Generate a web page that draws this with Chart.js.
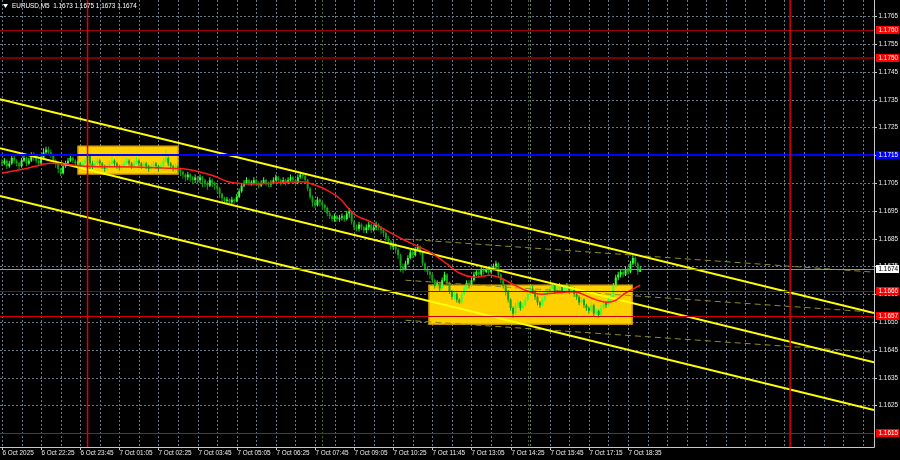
<!DOCTYPE html>
<html><head><meta charset="utf-8">
<script src="https://cdn.jsdelivr.net/npm/chart.js@4.4.1/dist/chart.umd.min.js"></script>
<style>html,body{margin:0;padding:0;background:#000;}canvas{display:block;}</style>
</head><body>
<canvas id="c" width="900" height="460"></canvas>
<script>
const symbol = 'EURUSD,M5';
const opens = [
1.17125,1.1712,1.1713,1.1711,1.1712,1.1714,1.1713,1.1712,1.1711,1.1713,
1.1714,1.1712,1.1713,1.1715,1.1714,1.1713,1.1712,1.1714,1.1716,1.1717,
1.1716,1.1715,1.1713,1.1712,1.1710,1.17085,1.1711,1.1712,1.1713,1.1714,
1.1713,1.1712,1.1712,1.1711,1.1712,1.1713,1.1715,1.1712,1.1711,1.1712,
1.1713,1.1712,1.1711,1.1710,1.1711,1.1712,1.1713,1.1712,1.1711,1.17105,
1.1711,1.1712,1.1713,1.1712,1.1711,1.1712,1.1713,1.1712,1.1711,1.1712,
1.1711,1.1710,1.1711,1.1712,1.1711,1.1710,1.1711,1.1713,1.1714,1.1712,
1.1711,1.1710,1.1711,1.1710,1.1709,1.1708,1.1707,1.1708,1.1707,1.1706,
1.1707,1.1706,1.1707,1.1706,1.1705,1.1704,1.1706,1.1705,1.1704,1.1703,
1.1701,1.16995,1.16985,1.1699,1.1698,1.1699,1.16985,1.1700,1.1702,1.1704,
1.1705,1.1706,1.1705,1.1705,1.1706,1.1705,1.1704,1.1705,1.1706,1.1705,
1.17045,1.1705,1.1706,1.1707,1.1706,1.1705,1.1706,1.1705,1.1706,1.1707,
1.1706,1.1705,1.1707,1.1708,1.17075,1.1706,1.1703,1.1700,1.1698,1.1697,
1.1699,1.1698,1.1697,1.1696,1.1694,1.1693,1.1692,1.1693,1.1692,1.16925,
1.1693,1.1692,1.1694,1.16945,1.1691,1.1689,1.16885,1.1690,1.1689,1.1688,
1.1689,1.1690,1.1688,1.1689,1.1690,1.1689,1.1688,1.1687,1.1685,1.1684,
1.1682,1.1683,1.1681,1.1679,1.1675,1.1674,1.1676,1.1678,1.1680,1.1679,
1.1681,1.1682,1.1680,1.1676,1.1674,1.1673,1.1672,1.1670,1.1668,1.1669,
1.1667,1.1670,1.1672,1.1669,1.1666,1.1664,1.1665,1.1663,1.1662,1.1665,
1.1667,1.1669,1.1668,1.1670,1.1672,1.1673,1.1672,1.1674,1.1673,1.1674,
1.1673,1.1674,1.1675,1.1676,1.1672,1.1670,1.1668,1.1666,1.1663,1.1660,
1.1658,1.1661,1.1662,1.1660,1.1661,1.1663,1.1665,1.1667,1.1666,1.1664,
1.1662,1.1661,1.1663,1.1665,1.1666,1.1667,1.1668,1.1666,1.1667,1.1668,
1.1666,1.1667,1.1668,1.1666,1.1667,1.1665,1.1664,1.1662,1.1663,1.1661,
1.1660,1.1659,1.1661,1.1658,1.1659,1.16575,1.1660,1.1662,1.1661,1.1663,
1.1664,1.1668,1.1671,1.1672,1.1673,1.1672,1.1674,1.1673,1.1676,1.1678,
1.1676,1.1673];
const highs = [
1.17135,1.1714,1.17135,1.1713,1.1715,1.1715,1.17135,1.17125,1.1714,1.1715,
1.17145,1.1714,1.1716,1.1716,1.17145,1.17135,1.1715,1.17175,1.1718,1.1718,
1.1717,1.17155,1.17135,1.17125,1.17105,1.17115,1.1713,1.1714,1.1715,1.17145,
1.17135,1.1713,1.17125,1.1713,1.1714,1.17175,1.17155,1.1713,1.1713,1.1714,
1.17135,1.17125,1.17115,1.1712,1.1713,1.17145,1.17135,1.17125,1.17115,1.1712,
1.1713,1.1714,1.17135,1.17125,1.1713,1.17145,1.17135,1.17125,1.1713,1.17125,
1.17115,1.1712,1.1713,1.17125,1.17115,1.1712,1.1714,1.1717,1.17145,1.17125,
1.17115,1.1712,1.17115,1.17105,1.17095,1.17085,1.1709,1.17085,1.17075,1.1708,
1.17075,1.1708,1.17075,1.17065,1.17055,1.1707,1.17065,1.17055,1.17045,1.17035,
1.17015,1.1700,1.1700,1.16995,1.1700,1.16995,1.1701,1.1703,1.1705,1.1706,
1.1707,1.17065,1.1706,1.1707,1.17065,1.17055,1.1706,1.1707,1.17065,1.17055,
1.1706,1.1707,1.1708,1.17075,1.17065,1.1707,1.17065,1.1707,1.1708,1.17075,
1.17065,1.1708,1.1709,1.17085,1.1708,1.17065,1.17035,1.17005,1.1699,1.1700,
1.16995,1.16985,1.16975,1.16965,1.1695,1.16935,1.1694,1.16935,1.16935,1.1694,
1.16935,1.1695,1.1696,1.1695,1.16915,1.1690,1.1691,1.16905,1.16895,1.1690,
1.1691,1.16905,1.1690,1.1691,1.16905,1.16895,1.16885,1.16875,1.1686,1.16845,
1.1684,1.16835,1.16815,1.16795,1.1676,1.1677,1.1679,1.1681,1.1681,1.1682,
1.1683,1.16825,1.16805,1.16765,1.1675,1.16735,1.16725,1.16705,1.1670,1.16695,
1.1671,1.1673,1.16725,1.16695,1.16665,1.1666,1.16655,1.16635,1.1666,1.1668,
1.1670,1.1670,1.1671,1.1673,1.1674,1.1674,1.1675,1.1675,1.1675,1.16745,
1.1675,1.1676,1.1677,1.16765,1.16725,1.16705,1.16685,1.16665,1.16635,1.16605,
1.1662,1.1663,1.16625,1.1662,1.1664,1.1666,1.1668,1.1668,1.16665,1.16645,
1.16625,1.1664,1.1666,1.1667,1.1668,1.1669,1.16685,1.1668,1.1669,1.16685,
1.1668,1.1669,1.16685,1.1668,1.16675,1.16655,1.16645,1.1664,1.16635,1.16615,
1.16605,1.1662,1.16615,1.1660,1.16595,1.1661,1.1663,1.16625,1.1664,1.1665,
1.1669,1.1672,1.1673,1.1674,1.1674,1.1675,1.1675,1.1677,1.1679,1.16785,
1.16765,1.1675];
const lows = [
1.1711,1.17115,1.1710,1.17105,1.17115,1.1712,1.1711,1.1710,1.17105,1.17125,
1.1711,1.17115,1.17125,1.1713,1.1712,1.1711,1.17115,1.17135,1.1715,1.1715,
1.1714,1.1712,1.17105,1.17085,1.17075,1.1708,1.17105,1.17115,1.17125,1.1712,
1.1711,1.1711,1.1710,1.17105,1.17115,1.1708,1.1710,1.1710,1.17105,1.17115,
1.1711,1.1710,1.1709,1.17095,1.17105,1.17115,1.1711,1.1710,1.17095,1.17095,
1.17105,1.17115,1.1711,1.1710,1.17105,1.17115,1.1711,1.1710,1.17105,1.1710,
1.1709,1.17095,1.17105,1.1710,1.1709,1.17095,1.17105,1.17125,1.1711,1.1710,
1.1709,1.1709,1.17085,1.17075,1.17065,1.17055,1.1706,1.17055,1.17045,1.1705,
1.17045,1.1705,1.17035,1.17035,1.17025,1.17035,1.17035,1.17025,1.17015,1.16995,
1.1698,1.16975,1.16975,1.1697,1.1697,1.16975,1.1698,1.16995,1.17015,1.17035,
1.17045,1.1704,1.1704,1.17045,1.1704,1.1703,1.17035,1.17045,1.1704,1.17035,
1.17035,1.17045,1.17055,1.1705,1.1704,1.17045,1.1704,1.17045,1.17055,1.1705,
1.1704,1.17045,1.17065,1.17065,1.1705,1.1702,1.1699,1.16965,1.1696,1.16965,
1.16965,1.16955,1.16945,1.1693,1.1692,1.1691,1.1691,1.1691,1.1691,1.16915,
1.1691,1.16915,1.16925,1.1690,1.1688,1.16875,1.16875,1.1688,1.1687,1.1687,
1.1688,1.1687,1.16875,1.1688,1.1688,1.16865,1.16855,1.1684,1.1683,1.1681,
1.1681,1.16795,1.16775,1.1673,1.16725,1.16735,1.16755,1.16775,1.1678,1.16785,
1.16805,1.1679,1.1675,1.1673,1.1672,1.16705,1.1669,1.1667,1.1667,1.1666,
1.16665,1.16695,1.1668,1.1665,1.1663,1.1663,1.1662,1.16615,1.16615,1.16645,
1.16665,1.1667,1.16675,1.16695,1.16715,1.1671,1.16715,1.1672,1.16725,1.1672,
1.16725,1.16735,1.1674,1.1671,1.1669,1.1667,1.16645,1.1662,1.1659,1.16565,
1.16575,1.1660,1.1659,1.16595,1.16605,1.16625,1.16645,1.1665,1.1663,1.1661,
1.1660,1.16605,1.16625,1.16645,1.16655,1.16665,1.1665,1.16655,1.16665,1.1665,
1.16655,1.16665,1.1665,1.16655,1.1664,1.1663,1.1661,1.16615,1.1660,1.1659,
1.1658,1.16585,1.1657,1.16575,1.16565,1.1657,1.16595,1.1660,1.16605,1.16625,
1.16635,1.16675,1.1670,1.1671,1.1671,1.16715,1.1672,1.16725,1.16755,1.1675,
1.1672,1.1673];
const closes = [
1.1712,1.1713,1.1711,1.1712,1.1714,1.1713,1.1712,1.1711,1.1713,1.1714,
1.1712,1.1713,1.1715,1.1714,1.1713,1.1712,1.1714,1.1716,1.1717,1.1716,
1.1715,1.1713,1.1712,1.1710,1.17085,1.1711,1.1712,1.1713,1.1714,1.1713,
1.1712,1.1712,1.1711,1.1712,1.1713,1.1715,1.1712,1.1711,1.1712,1.1713,
1.1712,1.1711,1.1710,1.1711,1.1712,1.1713,1.1712,1.1711,1.17105,1.1711,
1.1712,1.1713,1.1712,1.1711,1.1712,1.1713,1.1712,1.1711,1.1712,1.1711,
1.1710,1.1711,1.1712,1.1711,1.1710,1.1711,1.1713,1.1714,1.1712,1.1711,
1.1710,1.1711,1.1710,1.1709,1.1708,1.1707,1.1708,1.1707,1.1706,1.1707,
1.1706,1.1707,1.1706,1.1705,1.1704,1.1706,1.1705,1.1704,1.1703,1.1701,
1.16995,1.16985,1.1699,1.1698,1.1699,1.16985,1.1700,1.1702,1.1704,1.1705,
1.1706,1.1705,1.1705,1.1706,1.1705,1.1704,1.1705,1.1706,1.1705,1.17045,
1.1705,1.1706,1.1707,1.1706,1.1705,1.1706,1.1705,1.1706,1.1707,1.1706,
1.1705,1.1707,1.1708,1.17075,1.1706,1.1703,1.1700,1.1698,1.1697,1.1699,
1.1698,1.1697,1.1696,1.1694,1.1693,1.1692,1.1693,1.1692,1.16925,1.1693,
1.1692,1.1694,1.16945,1.1691,1.1689,1.16885,1.1690,1.1689,1.1688,1.1689,
1.1690,1.1688,1.1689,1.1690,1.1689,1.1688,1.1687,1.1685,1.1684,1.1682,
1.1683,1.1681,1.1679,1.1675,1.1674,1.1676,1.1678,1.1680,1.1679,1.1681,
1.1682,1.1680,1.1676,1.1674,1.1673,1.1672,1.1670,1.1668,1.1669,1.1667,
1.1670,1.1672,1.1669,1.1666,1.1664,1.1665,1.1663,1.1662,1.1665,1.1667,
1.1669,1.1668,1.1670,1.1672,1.1673,1.1672,1.1674,1.1673,1.1674,1.1673,
1.1674,1.1675,1.1676,1.1672,1.1670,1.1668,1.1666,1.1663,1.1660,1.1658,
1.1661,1.1662,1.1660,1.1661,1.1663,1.1665,1.1667,1.1666,1.1664,1.1662,
1.1661,1.1663,1.1665,1.1666,1.1667,1.1668,1.1666,1.1667,1.1668,1.1666,
1.1667,1.1668,1.1666,1.1667,1.1665,1.1664,1.1662,1.1663,1.1661,1.1660,
1.1659,1.1661,1.1658,1.1659,1.16575,1.1660,1.1662,1.1661,1.1663,1.1664,
1.1668,1.1671,1.1672,1.1673,1.1672,1.1674,1.1673,1.1676,1.1678,1.1676,
1.1673,1.1674];
// moving average (bar index, price)
const maIndex = [0,10,20,34,54,66,72,75,81,87,93,101,110,118,124,128,132,138,144,151,157,163,169,175,181,187,193,200,204,208,214,220,226,235,241,247,251,255,261];
const maValues = [1.17085,1.17102,1.17121,1.17110,1.17107,1.17104,1.17102,1.17100,1.17089,1.17074,1.17053,1.17046,1.17049,1.17053,1.17053,1.17042,1.17028,1.16995,1.16938,1.16909,1.16880,1.16851,1.16826,1.16801,1.16765,1.16726,1.16711,1.16718,1.16708,1.16690,1.16664,1.16650,1.16654,1.16657,1.16636,1.16621,1.16628,1.16654,1.16682];
const timeTickIndex = [0,16,32,48,64,80,96,112,128,144,160,176,192,208,224,240,256];
const timeTickLabels = ['6 Oct 2025','6 Oct 22:25','6 Oct 23:45','7 Oct 01:05','7 Oct 02:25','7 Oct 03:45','7 Oct 05:05','7 Oct 06:25','7 Oct 07:45','7 Oct 09:05','7 Oct 10:25','7 Oct 11:45','7 Oct 13:05','7 Oct 14:25','7 Oct 15:45','7 Oct 17:15','7 Oct 18:35'];
const priceTicks = [1.1765,1.1755,1.1745,1.1735,1.1725,1.1715,1.1705,1.1695,1.1685,1.1675,1.1665,1.1655,1.1645,1.1635,1.1625];
const levelPrices = [1.1760,1.1750,1.1715,1.1666,1.1657,1.1615];
const currentPrice = 1.1674;
const dayBreakIndex = [35,322.3];
const sessionIndex = [131,215];
const zoneStartIndex = [31.1,174.6];
const zoneEndIndex = [72,257.7];
const zoneTop = [1.17182,1.16682];
const zoneBottom = [1.17082,1.16542];
const channelFromIndex = -0.8, channelToIndex = 356.6;
const channelFrom = [1.17351,1.17175,1.17003];
const channelTo = [1.16582,1.16405,1.16233];
const dashFromIndex = 165, dashToIndex = 356.6;
const dashFrom = [1.16848,1.16700,1.16556];
const dashTo = [1.16729,1.16585,1.16441];

// ---- styles ----
const FONT = '6.4px "Liberation Sans", Arial, sans-serif';
const bullColor = '#3cff3c', bearColor = '#18a018';
const levelStyles = [
  {line:'#a00000', w:1, bg:'#ff0000', fg:'#ffffff'},
  {line:'#7a0000', w:2, bg:'#ff0000', fg:'#ffffff'},
  {line:'#0000ff', w:2, bg:'#0000ff', fg:'#ffffff'},
  {line:'#a00000', w:1, bg:'#ff0000', fg:'#ffffff'},
  {line:'#d00000', w:1, bg:'#ff0000', fg:'#ffffff'},
  {line:'#d00000', w:1, bg:'#ff0000', fg:'#ffffff'}
];

const idx = closes.map((_, i) => i);
const candleColor = c => closes[c.dataIndex] >= opens[c.dataIndex] ? bullColor : bearColor;
const fmt = v => v.toFixed(4);

const datasets = [];
channelFrom.forEach((p, k) => datasets.push({
  type:'line', data:[{x:channelFromIndex,y:p},{x:channelToIndex,y:channelTo[k]}],
  borderColor:'#ffff00', borderWidth:2, pointRadius:0, order:1
}));
dashFrom.forEach((p, k) => datasets.push({
  type:'line', data:[{x:dashFromIndex,y:p},{x:dashToIndex,y:dashTo[k]}],
  borderColor:'#8c8c2a', borderWidth:1, borderDash:[6,4], pointRadius:0, order:2
}));
datasets.push({
  type:'line', data: maIndex.map((i,k)=>({x:i,y:maValues[k]})),
  borderColor:'#ff1a1a', borderWidth:1.5, pointRadius:0, tension:0.35, order:0
});
datasets.push({
  type:'bar', data: idx.map(i=>({x:i,y:[opens[i],closes[i]]})),
  backgroundColor:candleColor, barThickness:2, minBarLength:1, grouped:false, inflateAmount:0, order:3
});
datasets.push({
  type:'bar', data: idx.map(i=>({x:i,y:[lows[i],highs[i]]})),
  backgroundColor:candleColor, barThickness:1, grouped:false, inflateAmount:0, order:4
});

const mtPlugin = {
  id:'mt',
  beforeDraw(chart){
    const ctx = chart.ctx; ctx.save(); ctx.fillStyle='#000'; ctx.fillRect(0,0,chart.width,chart.height); ctx.restore();
  },
  beforeDatasetsDraw(chart){
    const {ctx, chartArea:a, scales:{x,y}} = chart;
    ctx.save();
    ctx.strokeStyle='#6a7784'; ctx.lineWidth=1; ctx.setLineDash([2,2]);
    for (let i=0; i<=x.max; i+=8){
      const X=Math.round(x.getPixelForValue(i))+0.5;
      ctx.beginPath(); ctx.moveTo(X,a.top); ctx.lineTo(X,a.bottom); ctx.stroke();
    }
    priceTicks.forEach(p=>{
      const Y=Math.round(y.getPixelForValue(p))+0.5;
      ctx.beginPath(); ctx.moveTo(a.left,Y); ctx.lineTo(a.right,Y); ctx.stroke();
    });
    ctx.strokeStyle='#4d6320';
    sessionIndex.forEach(i=>{
      const X=Math.round(x.getPixelForValue(i))+0.5;
      ctx.beginPath(); ctx.moveTo(X,a.top); ctx.lineTo(X,a.bottom); ctx.stroke();
    });
    ctx.setLineDash([]);
    zoneStartIndex.forEach((s,k)=>{
      const x0=x.getPixelForValue(s), x1=x.getPixelForValue(zoneEndIndex[k]);
      const y0=y.getPixelForValue(zoneTop[k]), y1=y.getPixelForValue(zoneBottom[k]);
      ctx.fillStyle='#ffd000'; ctx.fillRect(x0,y0,x1-x0,y1-y0);
      ctx.strokeStyle='#d8a000'; ctx.lineWidth=1.5; ctx.strokeRect(x0,y0,x1-x0,y1-y0);
    });
    ctx.restore();
  },
  afterDatasetsDraw(chart){
    const {ctx, chartArea:a, scales:{x,y}} = chart;
    ctx.save();
    ctx.beginPath(); ctx.rect(a.left,a.top,a.right-a.left,a.bottom-a.top); ctx.clip();
    ctx.strokeStyle='#8a96a2'; ctx.lineWidth=1;
    let Yc=Math.round(y.getPixelForValue(currentPrice))+0.5;
    ctx.beginPath(); ctx.moveTo(a.left,Yc); ctx.lineTo(a.right,Yc); ctx.stroke();
    levelPrices.forEach((p,k)=>{
      const st=levelStyles[k]; const Y=y.getPixelForValue(p);
      ctx.strokeStyle=st.line; ctx.lineWidth=st.w;
      const yy = st.w%2 ? Math.round(Y)+0.5 : Math.round(Y);
      ctx.beginPath(); ctx.moveTo(a.left,yy); ctx.lineTo(a.right,yy); ctx.stroke();
    });
    ctx.strokeStyle='#e00000'; ctx.lineWidth=1.5;
    dayBreakIndex.forEach(i=>{
      const X=x.getPixelForValue(i);
      ctx.beginPath(); ctx.moveTo(X,a.top); ctx.lineTo(X,a.bottom); ctx.stroke();
    });
    ctx.restore();
  },
  afterDraw(chart){
    const {ctx, chartArea:a, scales:{x,y}} = chart;
    ctx.save();
    ctx.strokeStyle='#c8c8c8'; ctx.lineWidth=1;
    ctx.beginPath(); ctx.moveTo(a.right+0.5,a.top); ctx.lineTo(a.right+0.5,a.bottom+0.5); ctx.lineTo(a.left,a.bottom+0.5); ctx.stroke();
    ctx.font=FONT; ctx.fillStyle='#ececec'; ctx.textBaseline='middle'; ctx.textAlign='left';
    priceTicks.forEach(p=>{
      const Y=Math.round(y.getPixelForValue(p))+0.5;
      ctx.beginPath(); ctx.moveTo(a.right,Y); ctx.lineTo(a.right+3,Y); ctx.stroke();
      ctx.fillText(fmt(p), a.right+4.5, Y);
    });
    timeTickIndex.forEach((i,k)=>{
      const X=Math.round(x.getPixelForValue(i))+0.5;
      ctx.beginPath(); ctx.moveTo(X,a.bottom); ctx.lineTo(X,a.bottom+3); ctx.stroke();
      ctx.fillText(timeTickLabels[k], X, a.bottom+6.5);
    });
    const tag=(p,bg,fg)=>{
      const Y=Math.round(y.getPixelForValue(p));
      ctx.fillStyle=bg; ctx.fillRect(a.right+2,Y-4,23,8);
      ctx.fillStyle=fg; ctx.fillText(fmt(p), a.right+4.5, Y);
    };
    levelPrices.forEach((p,k)=>tag(p,levelStyles[k].bg,levelStyles[k].fg));
    tag(currentPrice,'#ffffff','#000000');
    // title
    const last=closes.length-1;
    ctx.fillStyle='#ffffff';
    ctx.beginPath(); ctx.moveTo(3,4); ctx.lineTo(8,4); ctx.lineTo(5.5,8); ctx.closePath(); ctx.fill();
    ctx.fillText(symbol+'  '+fmt(opens[last])+' '+fmt(highs[last])+' '+fmt(lows[last])+' '+fmt(closes[last]), 12, 6.5);
    ctx.restore();
  }
};

new Chart(document.getElementById('c'), {
  type:'bar',
  data:{datasets},
  options:{
    responsive:false, animation:false, devicePixelRatio:1,
    layout:{padding:{left:0,top:0,right:26,bottom:13}},
    plugins:{legend:{display:false}, tooltip:{enabled:false}},
    scales:{
      x:{type:'linear', display:false, min:channelFromIndex, max:channelToIndex, offset:false},
      y:{type:'linear', display:false, min:1.16100, max:1.17708}
    }
  },
  plugins:[mtPlugin]
});
</script>
</body></html>
